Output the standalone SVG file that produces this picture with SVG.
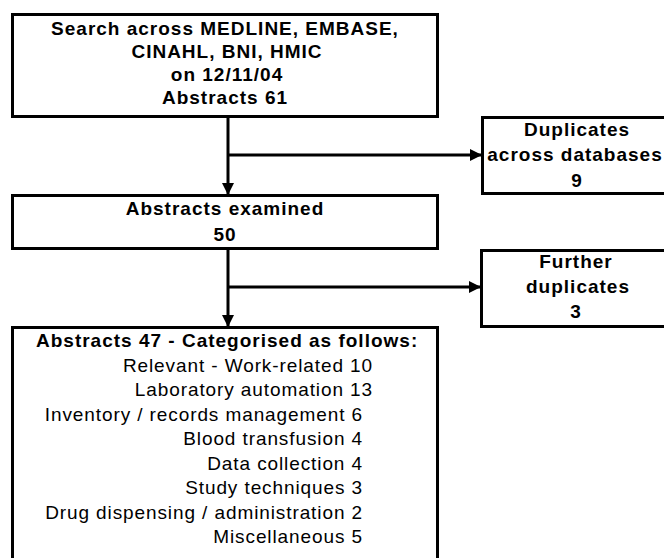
<svg xmlns="http://www.w3.org/2000/svg" width="664" height="558" viewBox="0 0 664 558">
<defs>
<marker id="arr" markerUnits="userSpaceOnUse" markerWidth="12" markerHeight="12" viewBox="0 0 12 12" refX="12" refY="6" orient="auto">
<path d="M0,0 L12,6 L0,12 Z" fill="#000"/>
</marker>
<style>
.box{fill:#fff;stroke:#000;stroke-width:3}
.b{font-family:"Liberation Sans",Arial,sans-serif;font-weight:bold;font-size:19px;letter-spacing:1px;text-anchor:middle;fill:#000}
.r{font-family:"Liberation Sans",Arial,sans-serif;font-size:19px;letter-spacing:0.9px;text-anchor:end;fill:#000}
.hb{font-family:"Liberation Sans",Arial,sans-serif;font-weight:bold;font-size:19px;letter-spacing:1px;fill:#000}
.c{fill:none;stroke:#000;stroke-width:3}
</style>
</defs>
<rect width="664" height="558" fill="#fff"/>
<g id="connectors">
<line class="c" x1="228" y1="117" x2="228" y2="195" marker-end="url(#arr)"/>
<line class="c" x1="228" y1="155" x2="482" y2="155" marker-end="url(#arr)"/>
<line class="c" x1="228" y1="249" x2="228" y2="327" marker-end="url(#arr)"/>
<line class="c" x1="228" y1="287" x2="481" y2="287" marker-end="url(#arr)"/>
</g>
<g id="search">
<rect class="box" x="12.5" y="14.5" width="425" height="102"/>
<text class="b" x="225" y="35">Search across MEDLINE, EMBASE,</text>
<text class="b" x="227" y="58">CINAHL, BNI, HMIC</text>
<text class="b" x="227" y="81">on 12/11/04</text>
<text class="b" x="225" y="104">Abstracts 61</text>
</g>
<g id="duplicates">
<rect class="box" x="482.5" y="117.5" width="200" height="76"/>
<text class="b" x="577" y="136">Duplicates</text>
<text class="b" x="575" y="161">across databases</text>
<text class="b" x="577" y="187">9</text>
</g>
<g id="examined">
<rect class="box" x="12.5" y="195.5" width="425" height="53"/>
<text class="b" x="225" y="215">Abstracts examined</text>
<text class="b" x="225" y="241">50</text>
</g>
<g id="further">
<rect class="box" x="481.5" y="250.5" width="200" height="76"/>
<text class="b" x="576" y="268">Further</text>
<text class="b" x="578" y="293">duplicates</text>
<text class="b" x="576" y="318">3</text>
</g>
<g id="categorised">
<rect class="box" x="12.5" y="327.5" width="425" height="260"/>
<text class="hb" x="36" y="347">Abstracts 47 - Categorised as follows:</text>
<text class="r" x="373" y="371.5">Relevant - Work-related 10</text>
<text class="r" x="373" y="396">Laboratory automation 13</text>
<text class="r" x="363" y="420.5">Inventory / records management 6</text>
<text class="r" x="363" y="445">Blood transfusion 4</text>
<text class="r" x="363" y="469.5">Data collection 4</text>
<text class="r" x="363" y="494">Study techniques 3</text>
<text class="r" x="363" y="518.5">Drug dispensing / administration 2</text>
<text class="r" x="363" y="543">Miscellaneous 5</text>
</g>
</svg>
